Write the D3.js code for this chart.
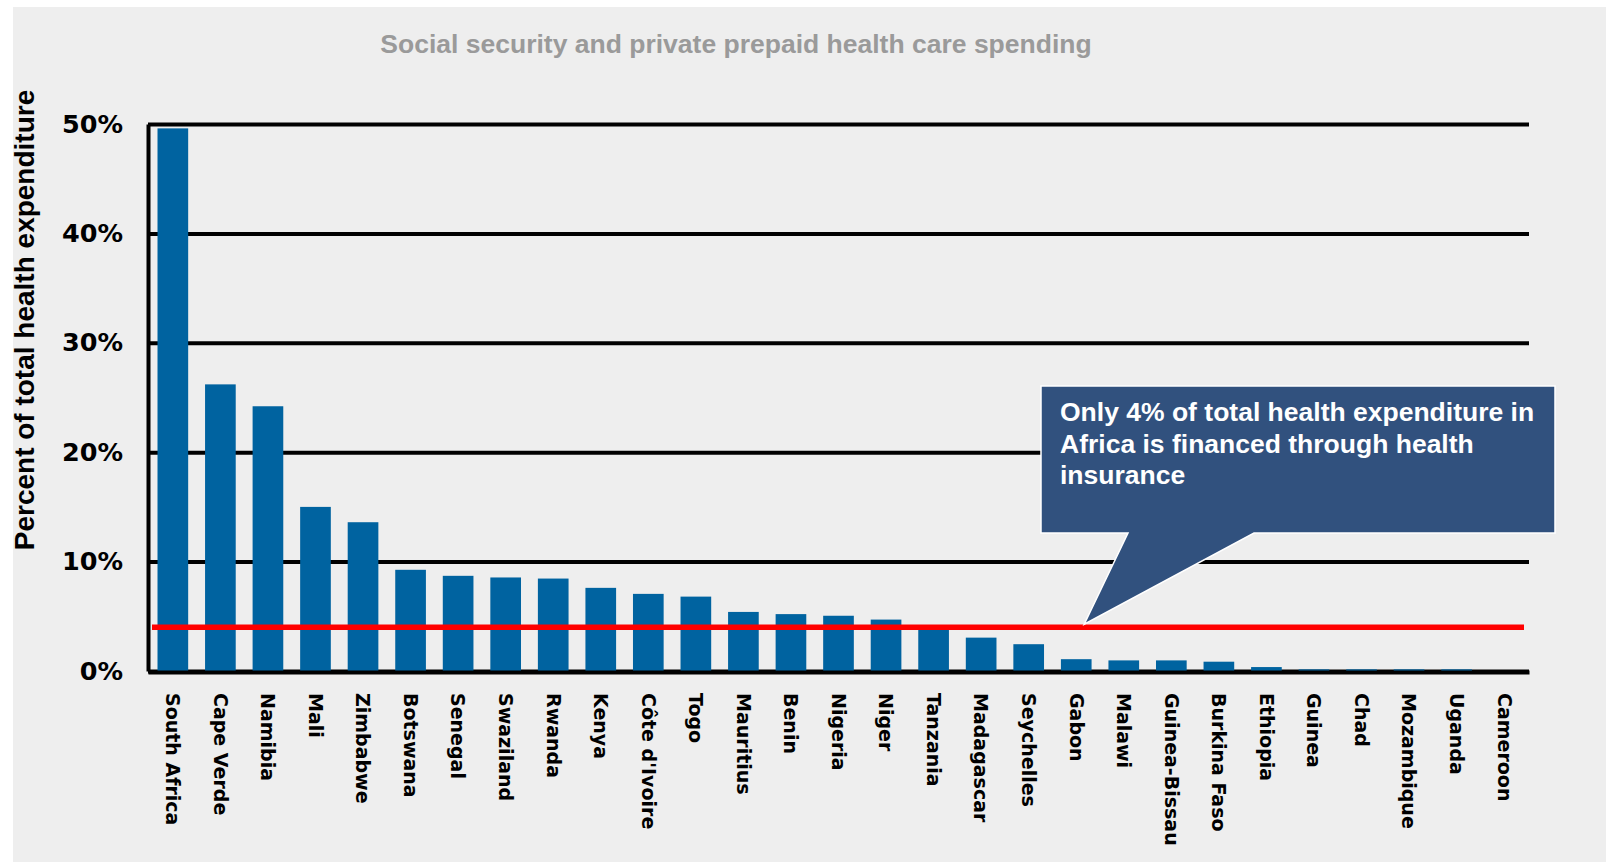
<!DOCTYPE html>
<html>
<head>
<meta charset="utf-8">
<script src="https://cdn.jsdelivr.net/npm/d3@7"></script>
<style>
	body { margin: 0; background: #fff; }
	svg { display: block; }
</style>
</head>
<body>
<div class="container"></div>
<script>
var countries = ['South Africa', 'Cape Verde', 'Namibia', 'Mali', 'Zimbabwe', 'Botswana', 'Senegal', 'Swaziland',
	'Rwanda', 'Kenya', 'C\u00f4te d\'Ivoire', 'Togo', 'Mauritius', 'Benin', 'Nigeria', 'Niger', 'Tanzania',
	'Madagascar', 'Seychelles', 'Gabon', 'Malawi', 'Guinea-Bissau', 'Burkina Faso', 'Ethiopia', 'Guinea',
	'Chad', 'Mozambique', 'Uganda', 'Cameroon'];
var shares = [49.6, 26.2, 24.2, 15.0, 13.6, 9.25, 8.7, 8.55, 8.45, 7.6, 7.05, 6.8, 5.4, 5.2, 5.05, 4.7, 4.1,
	3.05, 2.45, 1.08, 0.97, 0.97, 0.85, 0.36, 0.15, 0.15, 0.15, 0.15, 0];
var yTicks = [0, 10, 20, 30, 40, 50];
var africaAverage = 4;
var chartTitle = 'Social security and private prepaid health care spending';
var yTitle = 'Percent of total health expenditure';
var calloutLines = ['Only 4% of total health expenditure in', 'Africa is financed through health', 'insurance'];

var W = 1606, H = 862;
var plot = { left: 148, right: 1529, top: 124, bottom: 671 };

var svg = d3.select('.container')
	.append('svg')
	.attr('width', W)
	.attr('height', H);

// grey panel
svg.append('rect')
	.attr('x', 13)
	.attr('y', 7)
	.attr('width', W - 13)
	.attr('height', H - 7)
	.attr('fill', '#eeeeee');

// Title
svg.append('text')
	.attr('x', 736)
	.attr('y', 53)
	.attr('text-anchor', 'middle')
	.style('font', 'bold 26.5px "Liberation Sans", Arial, sans-serif')
	.attr('fill', '#9a9a9a')
	.text(chartTitle);

svg.append('text')
	.attr('transform', 'translate(34,320) rotate(-90)')
	.attr('text-anchor', 'middle')
	.style('font', 'bold 28px "Liberation Sans", Arial, sans-serif')
	.attr('fill', '#000')
	.text(yTitle);

var xScale = d3.scaleBand()
	.range([plot.left, plot.right])
	.domain(countries)
	.paddingInner(0.355)
	.paddingOuter(0.2);

var yScale = d3.scaleLinear()
	.domain([0, 50])
	.range([plot.bottom, plot.top]);

// yAxis + gridlines
var yAxis = d3.axisLeft(yScale)
	.tickValues(yTicks)
	.tickSize(-(plot.right - plot.left))
	.tickSizeOuter(0)
	.tickPadding(25)
	.tickFormat(d => d + '%');

var gy = svg.append('g')
	.attr('class', 'y-axis')
	.attr('transform', 'translate(' + plot.left + ',0)')
	.call(yAxis);

gy.selectAll('line')
	.attr('stroke', '#000')
	.attr('stroke-width', 4);
gy.select('.domain')
	.attr('stroke', '#000')
	.attr('stroke-width', 4);
gy.selectAll('text')
	.attr('fill', '#000')
	.style('font', 'bold 25.5px "DejaVu Sans", Verdana, sans-serif');

// bars
svg.append('g')
	.selectAll('rect')
	.data(shares)
	.enter().append('rect')
	.attr('x', (d, i) => xScale(countries[i]))
	.attr('y', d => yScale(d))
	.attr('width', xScale.bandwidth())
	.attr('height', d => yScale(0) - yScale(d))
	.attr('fill', '#0063a0');

// xAxis
var xAxis = d3.axisBottom(xScale)
	.tickSize(0)
	.tickSizeOuter(0);

var gx = svg.append('g')
	.attr('class', 'x-axis')
	.attr('transform', 'translate(0,' + (plot.bottom + 1) + ')')
	.call(xAxis);

gx.select('.domain')
	.attr('stroke', '#000')
	.attr('stroke-width', 4);
gx.selectAll('text')
	.attr('transform', 'rotate(90)')
	.attr('x', 21)
	.attr('y', 0)
	.attr('dy', '0.35em')
	.attr('text-anchor', 'start')
	.attr('fill', '#000')
	.style('font', 'bold 19px "DejaVu Sans", Verdana, sans-serif');

// average line
svg.append('line')
	.attr('x1', plot.left + 4)
	.attr('x2', plot.right - 5)
	.attr('y1', yScale(africaAverage))
	.attr('y2', yScale(africaAverage))
	.attr('stroke', '#ff0000')
	.attr('stroke-width', 5.5);

// callout
var box = { x0: 1041, x1: 1555, y0: 386, y1: 533 };
var tipX = xScale('Gabon') + xScale.bandwidth() / 2 + 8,
	tipY = yScale(africaAverage) - 3;
var callout = d3.path();
callout.moveTo(box.x0, box.y0);
callout.lineTo(box.x1, box.y0);
callout.lineTo(box.x1, box.y1);
callout.lineTo(1254, box.y1);
callout.lineTo(tipX, tipY);
callout.lineTo(1128, box.y1);
callout.lineTo(box.x0, box.y1);
callout.closePath();

svg.append('path')
	.attr('d', callout.toString())
	.attr('fill', '#31517e')
	.attr('stroke', '#fff')
	.attr('stroke-width', 1.5);

svg.append('g')
	.selectAll('text')
	.data(calloutLines)
	.enter().append('text')
	.attr('x', 1060)
	.attr('y', (d, i) => 421 + i * 31.7)
	.attr('fill', '#fff')
	.style('font', 'bold 26.5px "Liberation Sans", Arial, sans-serif')
	.text(d => d);
</script>
</body>
</html>
